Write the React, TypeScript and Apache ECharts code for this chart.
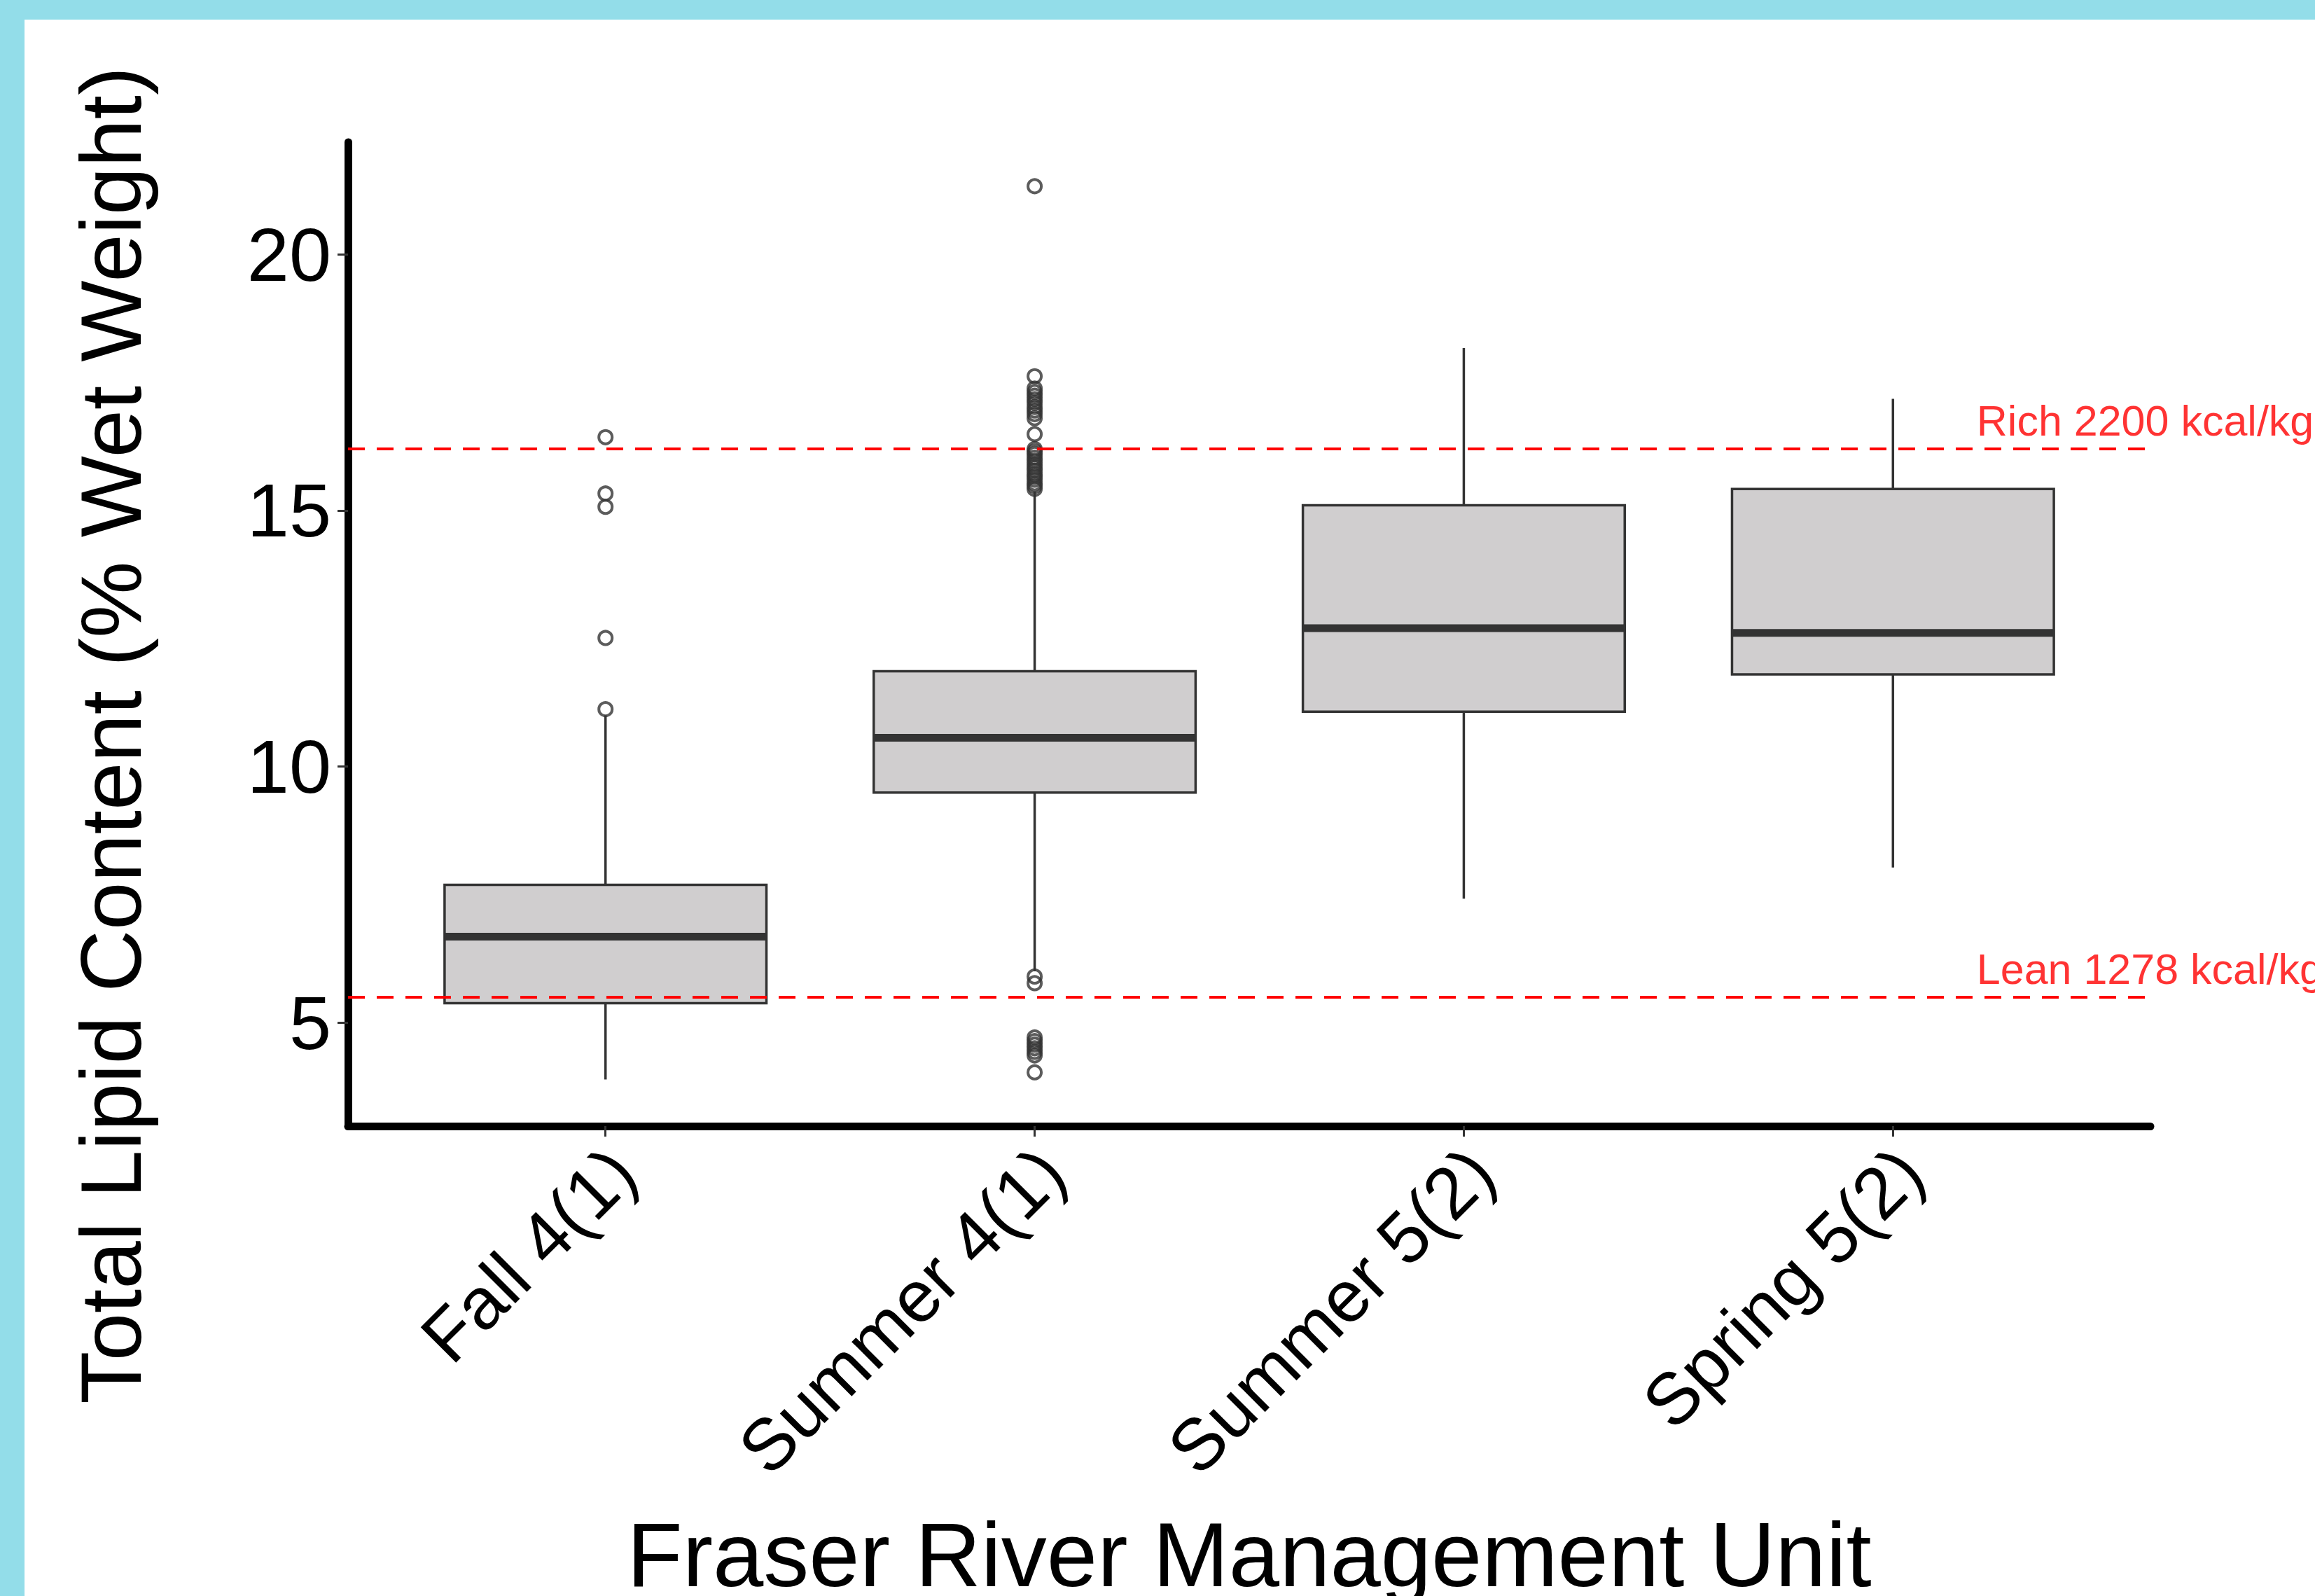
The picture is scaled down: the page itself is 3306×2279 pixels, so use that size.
import React, { useEffect, useRef } from "react";
import * as echarts from "echarts";

// ---------- data ----------
const categories = ["Fall 4(1)", "Summer 4(1)", "Summer 5(2)", "Spring 5(2)"];
const lowerWhisker = [3.89, 6.0, 7.42, 8.03];
const q1 = [5.38, 9.49, 11.07, 11.8];
const median = [6.68, 10.56, 12.7, 12.61];
const q3 = [7.69, 11.86, 15.1, 15.42];
const upperWhisker = [11.0, 15.37, 18.17, 17.18];

const outliersFall = [11.12, 12.51, 15.07, 15.33, 16.43];
const outliersSummer4 = [
  4.03, 4.36, 4.43, 4.5, 4.57, 4.64, 4.71, 5.77, 5.9,
  15.42, 15.48, 15.53, 15.6, 15.66, 15.71, 15.78, 15.84, 15.9, 15.97, 16.03, 16.1, 16.15, 16.2,
  16.49, 16.8, 16.88, 16.95, 17.02, 17.1, 17.17, 17.24, 17.31, 17.38, 17.62, 21.33,
];
const outliersSummer5: number[] = [];
const outliersSpring5: number[] = [];
const outlierGroups = [outliersFall, outliersSummer4, outliersSummer5, outliersSpring5];

const yTicks = [5, 10, 15, 20];
const refValues = [16.2, 5.5];
const refLabels = ["Rich 2200 kcal/kg", "Lean 1278 kcal/kg"];

const yTitle = "Total Lipid Content (% Wet Weight)";
const xTitle = "Fraser River Management Unit";

// ---------- layout / style ----------
const W = 3306;
const H = 2279;
const FONT = '"Liberation Sans", Arial, Helvetica, sans-serif';
const BOX_W = 0.75;
const LABEL_X = 3.195;
const DARK = "#333333";

export default function App() {
  const ref = useRef<HTMLDivElement>(null);

  useEffect(() => {
    if (!ref.current) return;
    const chart = echarts.init(ref.current, null, { renderer: "svg", width: W, height: H });

    const boxData = categories.map((_, i) => [
      i,
      lowerWhisker[i],
      q1[i],
      median[i],
      q3[i],
      upperWhisker[i],
    ]);
    const outlierData: number[][] = [];
    outlierGroups.forEach((g, i) => g.forEach((v) => outlierData.push([i, v])));
    const labelData = refValues.map((v, i) => [LABEL_X, v, refLabels[i]]);

    const option: any = {
      animation: false,
      backgroundColor: "#ffffff",
      grid: {
        left: 497,
        right: W - 3071,
        top: 203,
        bottom: H - 1608,
        containLabel: false,
        outerBoundsMode: "none",
      },
      xAxis: {
        type: "value",
        min: -0.6,
        max: 3.6,
        splitLine: { show: false },
        axisLine: { show: true, onZero: false, lineStyle: { color: "#000", width: 11 } },
        axisTick: {
          show: true,
          length: 15,
          lineStyle: { color: DARK, width: 3 },
          customValues: [0, 1, 2, 3],
        },
        axisLabel: {
          show: true,
          customValues: [0, 1, 2, 3],
          formatter: (v: number) => categories[Math.round(v)] ?? "",
          rotate: 45,
          align: "right",
          verticalAlign: "top",
          lineHeight: 70,
          margin: 24,
          fontSize: 104,
          fontFamily: FONT,
          color: "#000",
        },
      },
      yAxis: {
        type: "value",
        min: 2.98,
        max: 22.19,
        splitLine: { show: false },
        axisLine: { show: true, onZero: false, lineStyle: { color: "#000", width: 11 } },
        axisTick: {
          show: true,
          length: 15,
          lineStyle: { color: DARK, width: 3 },
          customValues: yTicks,
        },
        axisLabel: {
          show: true,
          customValues: yTicks,
          margin: 24,
          fontSize: 108,
          fontFamily: FONT,
          color: "#000",
        },
      },
      series: [
        {
          type: "custom",
          z: 2,
          encode: { x: 0, y: [1, 2, 3, 4, 5] },
          data: boxData,
          renderItem: (params: any, api: any) => {
            const x = api.value(0);
            const lo = api.coord([x, api.value(1)]);
            const b1 = api.coord([x, api.value(2)]);
            const md = api.coord([x, api.value(3)]);
            const b3 = api.coord([x, api.value(4)]);
            const hi = api.coord([x, api.value(5)]);
            const half = api.size([BOX_W, 0])[0] / 2;
            const cx = lo[0];
            const lineStyle = { stroke: DARK, lineWidth: 3.5 };
            return {
              type: "group",
              children: [
                { type: "line", shape: { x1: cx, y1: hi[1], x2: cx, y2: b3[1] }, style: lineStyle },
                { type: "line", shape: { x1: cx, y1: b1[1], x2: cx, y2: lo[1] }, style: lineStyle },
                {
                  type: "rect",
                  shape: { x: cx - half, y: b3[1], width: 2 * half, height: b1[1] - b3[1] },
                  style: { fill: "#D0CECF", stroke: DARK, lineWidth: 3.5 },
                },
                {
                  type: "line",
                  shape: { x1: cx - half, y1: md[1], x2: cx + half, y2: md[1] },
                  style: { stroke: DARK, lineWidth: 11 },
                },
              ],
            };
          },
        },
        {
          type: "scatter",
          z: 3,
          data: labelData,
          symbolSize: 0,
          silent: true,
          label: {
            show: true,
            position: "right",
            distance: 0,
            offset: [0, -40],
            formatter: (p: any) => p.data[2],
            color: "#FF0000",
            fontSize: 61,
            fontFamily: FONT,
          },
          markLine: {
            silent: true,
            symbol: ["none", "none"],
            label: { show: false },
            lineStyle: { color: "#FF0000", width: 4, type: [24, 17], opacity: 1 },
            data: refValues.map((v) => ({ yAxis: v })),
          },
        },
        {
          type: "scatter",
          z: 4,
          data: outlierData,
          symbol: "circle",
          symbolSize: 19,
          itemStyle: { color: "rgba(0,0,0,0)", borderColor: DARK, borderWidth: 4 },
        },
      ],
      graphic: [
        { type: "rect", z: 100, shape: { x: 0, y: 0, width: W, height: 28 }, style: { fill: "#93DDE9" } },
        { type: "rect", z: 100, shape: { x: 0, y: 0, width: 35, height: H }, style: { fill: "#93DDE9" } },
        {
          type: "text",
          x: 158,
          y: 1050,
          rotation: Math.PI / 2,
          style: {
            text: yTitle,
            fill: "#000",
            fontSize: 123,
            fontFamily: FONT,
            align: "center",
            verticalAlign: "middle",
            textAlign: "center",
            textVerticalAlign: "middle",
          },
        },
        {
          type: "text",
          x: 1784,
          y: 2220,
          style: {
            text: xTitle,
            fill: "#000",
            fontSize: 130,
            fontFamily: FONT,
            align: "center",
            verticalAlign: "middle",
            textAlign: "center",
            textVerticalAlign: "middle",
          },
        },
      ],
    };

    chart.setOption(option);
    return () => chart.dispose();
  }, []);

  return (
    <div
      ref={ref}
      style={{ position: "fixed", left: 0, top: 0, width: W, height: H, background: "#fff" }}
    />
  );
}
